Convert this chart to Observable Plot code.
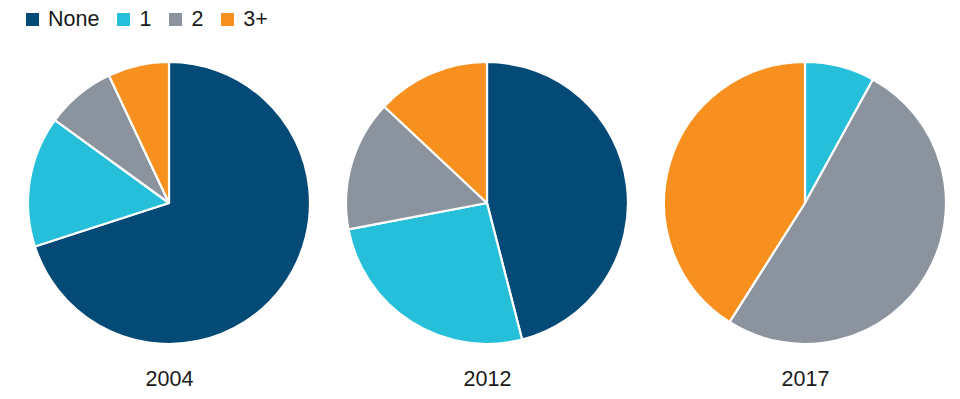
<!DOCTYPE html>
<html>
<head>
<meta charset="utf-8">
<script src="https://cdn.jsdelivr.net/npm/d3@7"></script>
<script src="https://cdn.jsdelivr.net/npm/@observablehq/plot@0.6"></script>
<style>
  html, body { margin: 0; padding: 0; background: #fff; }
  body { width: 960px; height: 399px; overflow: hidden; font-family: "Liberation Sans", Arial, Helvetica, sans-serif; }
  #legend { display: flex; align-items: center; height: 38px; padding-left: 26px; box-sizing: border-box; font-size: 21.5px; color: #1a1a1a; }
  .item { display: flex; align-items: center; margin-right: 18px; }
  .sw { width: 13px; height: 13px; margin-right: 9px; }
  #chart svg { display: block; }
</style>
</head>
<body>
<div id="legend"></div>
<div id="chart"></div>
<script>
const years = ["2004", "2012", "2017"];
const categories = ["None", "1", "2", "3+"];
const colors = ["#044a77", "#26bfd9", "#8b939f", "#f7901e"];
const values2004 = [70, 15, 8, 7];
const values2012 = [46, 26, 15, 13];
const values2017 = [0, 8, 51, 41];

const seriesByYear = {"2004": values2004, "2012": values2012, "2017": values2017};

// Build slice table with d3.pie (clockwise from 12 o'clock, data order)
const pie = d3.pie().sort(null).value(d => d);
const rows = [];
for (const year of years) {
  const arcs = pie(seriesByYear[year]);
  arcs.forEach((a, i) => {
    rows.push({year, category: categories[i], value: a.value, startAngle: a.startAngle, endAngle: a.endAngle});
  });
}

// Legend
const legend = document.getElementById("legend");
categories.forEach((c, i) => {
  const item = document.createElement("div");
  item.className = "item";
  const sw = document.createElement("span");
  sw.className = "sw";
  sw.style.background = colors[i];
  const lab = document.createElement("span");
  lab.textContent = c;
  item.appendChild(sw);
  item.appendChild(lab);
  legend.appendChild(item);
});

function pieRender(index, scales, values, dimensions) {
  const {height, marginTop, marginBottom} = dimensions;
  const cy = (marginTop + height - marginBottom) / 2;
  const r = (height - marginTop - marginBottom) / 2;
  const arc = d3.arc().innerRadius(0).outerRadius(r);
  const g = d3.create("svg:g");
  for (const i of index) {
    const d = rows[i];
    g.append("path")
      .attr("transform", `translate(${values.x[i]},${cy})`)
      .attr("d", arc({startAngle: d.startAngle, endAngle: d.endAngle}))
      .attr("fill", values.fill[i])
      .attr("stroke", "#fff")
      .attr("stroke-width", 2.2)
      .attr("stroke-linejoin", "round");
  }
  return g.node();
}

const chart = Plot.plot({
  width: 960,
  height: 361,
  marginTop: 24,
  marginBottom: 55,
  marginLeft: 0,
  marginRight: 0,
  style: {fontFamily: "'Liberation Sans', Arial, Helvetica, sans-serif", background: "#fff"},
  x: {type: "point", domain: years, range: [168, 805], padding: 0, axis: null},
  color: {domain: categories, range: colors},
  marks: [
    Plot.dot(rows, {x: "year", fill: "category", render: pieRender}),
    Plot.text(years, {x: d => d, text: d => d, frameAnchor: "bottom", lineAnchor: "middle", dy: 35, fontSize: 21.5, fill: "#1a1a1a"})
  ]
});
document.getElementById("chart").appendChild(chart);
</script>
</body>
</html>
